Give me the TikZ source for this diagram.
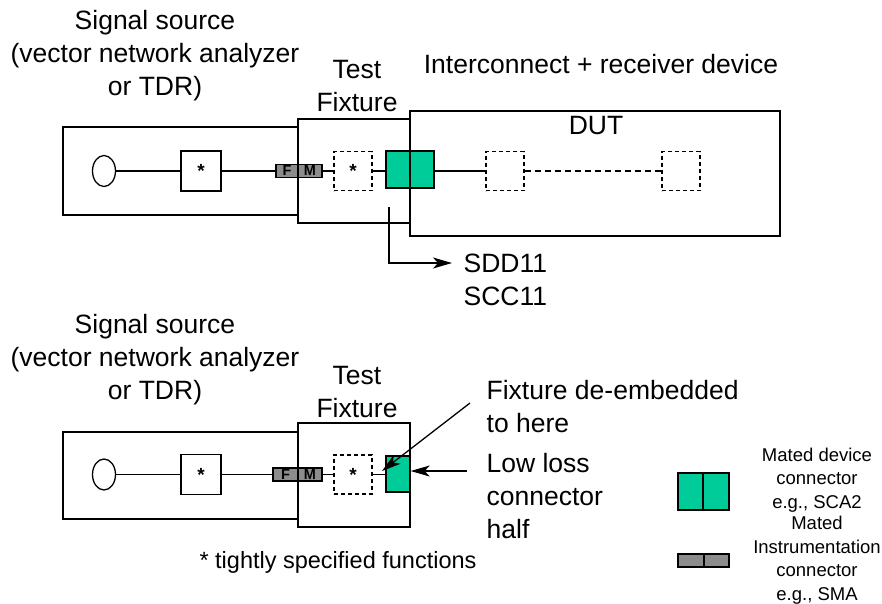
\documentclass[tikz,border=0pt]{standalone}
\usepackage{fontspec}
\setmainfont{Liberation Sans}
\usetikzlibrary{arrows.meta,shapes.geometric}
\definecolor{matedgreen}{HTML}{00CC99}
\definecolor{smagray}{HTML}{8C8C8C}

\begin{document}
\begin{tikzpicture}[x=1pt,y=-1pt,line width=1.3pt,
  box/.style={draw,rectangle,inner sep=0pt},
  starbox/.style={box,minimum width=40pt,minimum height=40pt,
    font=\bfseries\fontsize{19}{19}\selectfont},
  dstar/.style={starbox,dashed,dash pattern=on 4pt off 3pt,
    minimum width=38pt,minimum height=39pt},
  dbox/.style={box,dashed,dash pattern=on 4pt off 3pt,
    minimum width=38pt,minimum height=39pt},
  greenhalf/.style={box,fill=matedgreen},
  grayhalf/.style={box,fill=smagray,minimum height=13pt,
    font=\bfseries\fontsize{14.5}{14.5}\selectfont},
  srcell/.style={draw,ellipse,minimum width=23pt,minimum height=31pt,inner sep=0pt},
  lbl/.style={font=\fontsize{26.5}{33}\selectfont,align=center,inner sep=0pt},
  lblL/.style={font=\fontsize{26.5}{33}\selectfont,align=left,inner sep=0pt,anchor=west},
  legtxt/.style={font=\fontsize{18.5}{23.5}\selectfont,align=center,inner sep=0pt},
  arr/.style={-{Stealth[length=19pt,width=11pt,inset=5pt]}}
]
\useasboundingbox (0,0) rectangle (882,603);

% ---------------- upper set-up: measurement through the DUT ----------------
\node[lbl] (srcA) at (155,56) {Signal source\\(vector network analyzer\\or TDR)};
\node[lbl] (tfA) at (357,86) {Test\\Fixture};
\node[lbl] (icA) at (601,64) {Interconnect + receiver device};

\draw (63,127) rectangle (298,215);
\draw (298,119) rectangle (410,223);
\draw (410,111) rectangle (780,236);
\node[lbl] (dutA) at (596,126) {DUT};

\node[srcell] (ellA) at (104,171) {};
\node[starbox] (sA) at (201,171) {*};
\node[grayhalf,minimum width=22pt] (fA) at (287,171) {F};
\node[grayhalf,minimum width=24pt] (mA) at (310,171) {M};
\node[dstar] (dA) at (353,171) {*};
\node[greenhalf,minimum width=24pt,minimum height=37pt] (gA1) at (398,169.5) {};
\node[greenhalf,minimum width=24pt,minimum height=37pt] (gA2) at (422,169.5) {};
\draw (410,111) -- (410,236);
\node[dbox] (d1) at (505,171) {};
\node[dbox] (d2) at (681,171) {};

\draw (ellA) -- (sA);
\draw (sA) -- (fA);
\draw (mA) -- (dA);
\draw (dA.east) -- (dA.east -| gA1.west);
\draw (gA2.east |- d1.west) -- (d1.west);
\draw[dashed,dash pattern=on 6pt off 4pt] (d1) -- (d2);

\coordinate (refA) at (389,207);
\coordinate (sddTip) at (452,263);
\node[lblL] (sdd) at (463,279.5) {SDD11\\SCC11};
\draw[arr] (refA) |- (sddTip);

% ---------------- lower set-up: fixture de-embedded ----------------
\node[lbl] (srcB) at (155,360) {Signal source\\(vector network analyzer\\or TDR)};
\node[lbl] (tfB) at (357,392) {Test\\Fixture};

\draw (63,432) rectangle (298,519);
\draw (298,423) rectangle (410,527);

\node[srcell] (ellB) at (104,474.5) {};
\node[starbox] (sB) at (201,474.5) {*};
\node[grayhalf,minimum width=25pt] (fB) at (285.5,474.5) {F};
\node[grayhalf,minimum width=24pt] (mB) at (310,474.5) {M};
\node[dstar] (dB) at (353,474.5) {*};
\node[greenhalf,minimum width=24pt,minimum height=36pt] (gB) at (398,474) {};

\draw (ellB) -- (sB);
\draw (sB) -- (fB);
\draw (mB) -- (dB);
\draw (dB.east) -- (dB.east -| gB.west);

\node[lblL] (deemb) at (486,406.5) {Fixture de-embedded\\to here};
\node[lblL] (lowloss) at (486,496) {Low loss\\connector\\half};
\coordinate (deembTail) at (470,403);
\coordinate (deembTip) at (382,471);
\draw[arr] (deembTail) -- (deembTip);
\coordinate (llTail) at (467,471);
\draw[arr] (llTail) -- (gB.east |- llTail);

\node[font=\fontsize{23.5}{28}\selectfont,inner sep=0pt] (note) at (338,562)
  {* tightly specified functions};

% ---------------- legend ----------------
\node[greenhalf,minimum width=25pt,minimum height=37pt] (lgG1) at (690.5,491.5) {};
\node[greenhalf,minimum width=26pt,minimum height=37pt] (lgG2) at (716,491.5) {};
\node[legtxt] (lgGt) at (817,480) {Mated device\\connector\\e.g., SCA2};
\node[box,fill=smagray,minimum width=26pt,minimum height=13pt] (lgS1) at (691,560.5) {};
\node[box,fill=smagray,minimum width=25pt,minimum height=13pt] (lgS2) at (716.5,560.5) {};
\node[legtxt] (lgSt) at (817,560) {Mated\\Instrumentation\\connector\\e.g., SMA};
\end{tikzpicture}
\end{document}
